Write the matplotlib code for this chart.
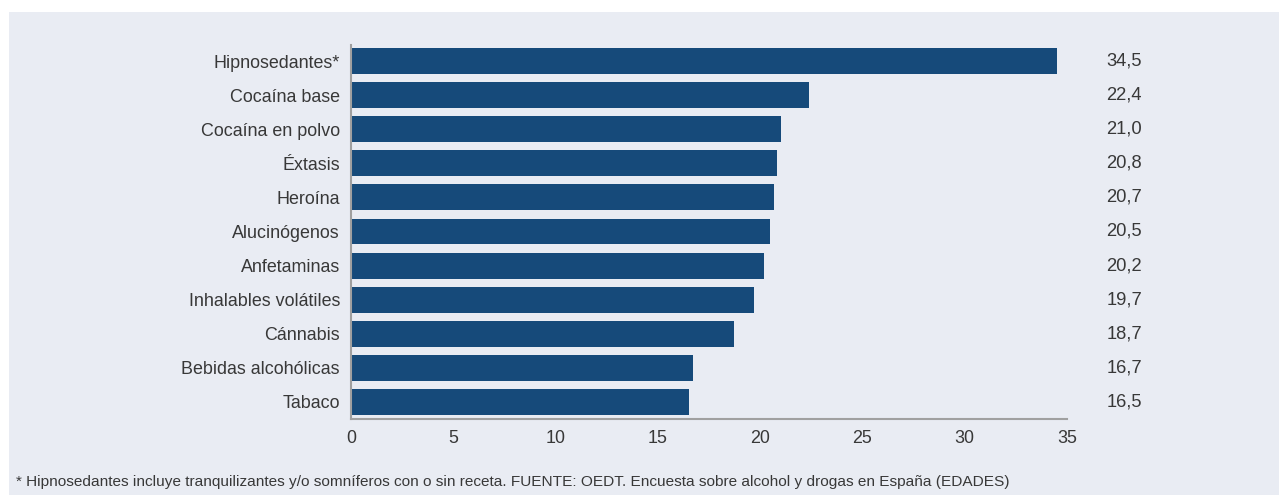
import matplotlib.pyplot as plt
from matplotlib.patches import Rectangle

categories = ['Hipnosedantes*', 'Cocaína base', 'Cocaína en polvo', 'Éxtasis', 'Heroína',
              'Alucinógenos', 'Anfetaminas', 'Inhalables volátiles', 'Cánnabis',
              'Bebidas alcohólicas', 'Tabaco']
values = [34.5, 22.4, 21.0, 20.8, 20.7, 20.5, 20.2, 19.7, 18.7, 16.7, 16.5]
value_labels = ['34,5', '22,4', '21,0', '20,8', '20,7', '20,5', '20,2', '19,7', '18,7', '16,7', '16,5']
xticks = [0, 5, 10, 15, 20, 25, 30, 35]
footnote = ('* Hipnosedantes incluye tranquilizantes y/o somníferos con o sin receta. '
            'FUENTE: OEDT. Encuesta sobre alcohol y drogas en España (EDADES)')

plt.rcParams['font.family'] = ['Liberation Sans', 'DejaVu Sans']

bg = '#e9ecf3'
bar_color = '#164a7a'
text_color = '#383838'
spine_color = '#a0a0a0'

fig = plt.figure(figsize=(12.79, 4.95), dpi=100, facecolor='white')
fig.patches.append(Rectangle((9 / 1279, 0), 1 - 9 / 1279, 1 - 12 / 495,
                             transform=fig.transFigure, facecolor=bg,
                             edgecolor='none', zorder=-10))

ax = fig.add_axes([351 / 1279, 1 - 419 / 495, (1067 - 351) / 1279, (419 - 45) / 495])
ax.set_facecolor('none')

y = list(range(len(categories)))
ax.barh(y, values, height=0.76, color=bar_color)
ax.set_ylim(len(categories) - 0.5, -0.47)
ax.set_xlim(0, 35)
ax.set_yticks(y)
ax.set_yticklabels(categories)
ax.set_xticks(xticks)
ax.set_xticklabels([str(t) for t in xticks])
ax.tick_params(axis='both', length=0, labelsize=12.9, labelcolor=text_color)
ax.tick_params(axis='y', pad=8)
ax.tick_params(axis='x', pad=8)

for s in ['top', 'right']:
    ax.spines[s].set_visible(False)
for s in ['left', 'bottom']:
    ax.spines[s].set_color(spine_color)
    ax.spines[s].set_linewidth(1.5)

lab_x = (1124 - 351) / (1067 - 351)
for yi, lab in zip(y, value_labels):
    ax.text(lab_x, yi, lab, transform=ax.get_yaxis_transform(), ha='center', va='center',
            fontsize=13.2, color=text_color)

fig.text(16 / 1279, 1 - 482 / 495, footnote, ha='left', va='center', fontsize=11.1,
         color=text_color)

fig.savefig('out.png', dpi=100, facecolor='white')
